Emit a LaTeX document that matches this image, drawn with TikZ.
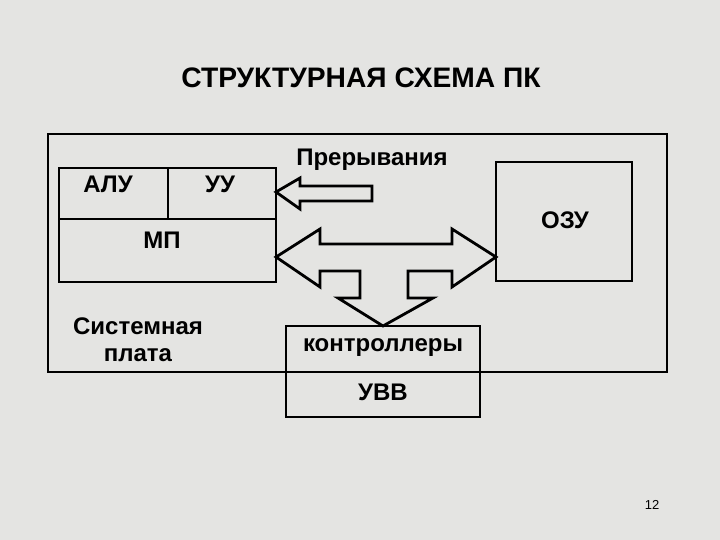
\documentclass[tikz,border=0pt]{standalone}
\usepackage{fontspec}
\setmainfont{Liberation Sans}
\definecolor{bgc}{RGB}{228,228,226}
\begin{document}
\begin{tikzpicture}[x=1pt,y=-1pt,
  box/.style={draw, line width=2.8pt, inner sep=0, outer sep=0},
  lbl/.style={font=\fontsize{24}{27}\bfseries\selectfont, inner sep=0, align=center},
  blockarrow/.style={draw, line width=2.8pt, miter limit=20, line join=miter}]
\fill[bgc] (0,0) rectangle (720,540);
\useasboundingbox (0,0) rectangle (720,540);
\node[font=\fontsize{28.2}{32}\bfseries\selectfont, inner sep=0] (title) at (361,78) {СТРУКТУРНАЯ СХЕМА ПК};
% board
\node[box, minimum width=619, minimum height=238] (board) at (357.5,253) {};
% processor
\node[box, minimum width=109, minimum height=51] (alu) at (113.5,193.5) {};
\node[box, minimum width=108, minimum height=51] (uu) at (222,193.5) {};
\node[box, minimum width=217, minimum height=63] (mp) at (167.5,250.5) {};
\node[lbl] (alut) at (108,184) {АЛУ};
\node[lbl] (uut) at (220,184) {УУ};
\node[lbl] (mpt) at (162,240) {МП};
% RAM
\node[box, minimum width=136, minimum height=119] (ram) at (564,221.5) {};
\node[lbl] (ramt) at (565,220) {ОЗУ};
% controllers / IO
\node[box, minimum width=194, minimum height=46] (ctl) at (383,349) {};
\node[box, minimum width=194, minimum height=45] (io) at (383,394.5) {};
\node[lbl] (ctlt) at (383,348) {контроллеры};
\node[lbl] (iot) at (383,392) {УВВ};
\node[lbl] (sys) at (138,340) {Системная\\плата};
\node[lbl] (intt) at (372,160) {Прерывания};
\node[font=\fontsize{13}{15}\selectfont, inner sep=0] (page) at (652,505) {12};
% interrupt arrow
\coordinate (itip) at (uu.east |- 0,192);
\draw[blockarrow] (itip) -- (300,178) -- (300,186) -- (372,186) -- (372,201) -- (300,201) -- (300,209) -- cycle;
% bus arrow
\coordinate (ltip) at (mp.east |- 0,257);
\coordinate (rtip) at (ram.west |- 0,257);
\coordinate (dtip) at (ctl.north);
\draw[blockarrow] (ltip) -- (320,229) -- (320,244) -- (452,244) -- (452,229) -- (rtip)
  -- (452,287) -- (452,271) -- (408,271) -- (408,298) -- (433,298) -- (dtip)
  -- (338,298) -- (360,298) -- (360,271) -- (320,271) -- (320,287) -- cycle;
\end{tikzpicture}
\end{document}
